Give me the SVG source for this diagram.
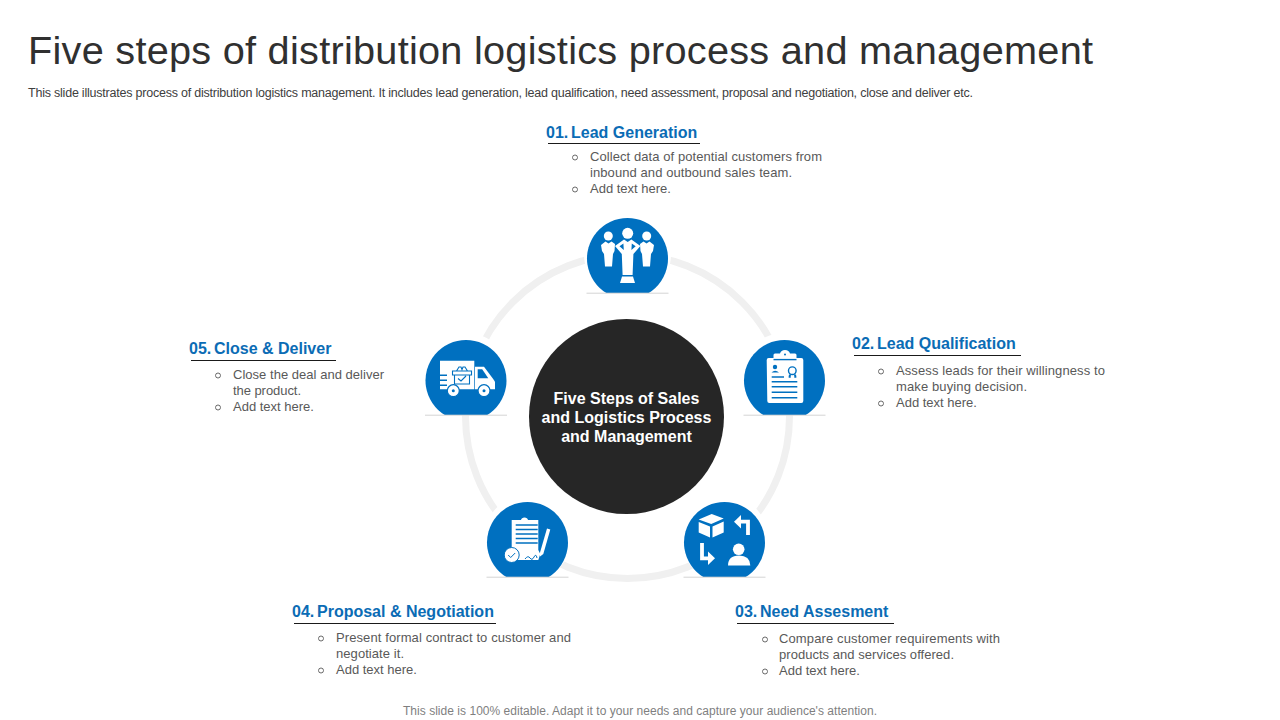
<svg xmlns="http://www.w3.org/2000/svg" width="1280" height="720" viewBox="0 0 1280 720">
<style>
text{font-family:"Liberation Sans",Arial,sans-serif}
.h{font-size:16px;font-weight:bold;fill:#0b6cb5}
.b{font-size:13px;fill:#595959}
.o{fill:none;stroke:#595959;stroke-width:.9}
.u{stroke:#1a1a1a;stroke-width:1}
.disc{fill:#0070c0}
.base{stroke:#d4d4d4;stroke-width:1}
.w{fill:#fff}
.bl{fill:#0070c0}
.bs{stroke:#0070c0;stroke-width:1.4;fill:none}
.ws{stroke:#fff;fill:none;stroke-width:3.8}
</style>
<defs>
<g id="badge">
<path class="w" d="M-20,34.5A43.500,43.500 0 1 1 20,34.5Z"/>
<path class="disc" d="M-21.2,34.5A40.5,40.5 0 1 1 21.2,34.5Z"/>
<line class="base" x1="-41" y1="34.7" x2="41" y2="34.7"/>
</g>
</defs>
<rect width="1280" height="720" fill="#fff"/>
<text x="28" y="64" font-size="39.700" fill="#303030" textLength="1065" lengthAdjust="spacing">Five steps of distribution logistics process and management</text>
<text x="28" y="97" font-size="12.500" fill="#404040" textLength="945" lengthAdjust="spacing">This slide illustrates process of distribution logistics management. It includes lead generation, lead qualification, need assessment, proposal and negotiation, close and deliver etc.</text>

<g id="connectors">
<circle cx="627.5" cy="416.5" r="162" fill="none" stroke="#f0f0f0" stroke-width="7"/>
</g>

<g id="center">
<circle cx="626.5" cy="416.5" r="97.5" fill="#262626"/>
<text x="626.5" y="403.500" font-size="16" font-weight="bold" fill="#fff" text-anchor="middle">Five Steps of Sales</text>
<text x="626.5" y="422.500" font-size="16" font-weight="bold" fill="#fff" text-anchor="middle">and Logistics Process</text>
<text x="626.5" y="441.500" font-size="16" font-weight="bold" fill="#fff" text-anchor="middle">and Management</text>
</g>

<g id="node-01">
<use href="#badge" x="627.5" y="258.5"/>
<g class="w">
<circle cx="608.300" cy="236" r="4.500"/>
<circle cx="646.700" cy="236" r="4.500"/>
<circle cx="627.700" cy="233.300" r="5.500"/>
<path d="M601,245l4.500,-3.500l3,2l3,-2l3.500,2.500l-.5,7l-1.500,3l-1,12.500h-7l-1,-12.500l-2,-3z"/>
<path d="M654,245l-4.500,-3.500l-3,2l-3,-2l-3.500,2.500l.5,7l1.500,3l1,12.500h7l1,-12.500l2,-3z"/>
<path fill-rule="evenodd" d="M615,246l9,-6.500l3.700,2.500l3.700,-2.500l9,6.500l-7,8l-.8,21h-10l-.8,-21zM619.500,246.300l4.300,3.700l-.4,-6.500zM635.700,246.300l-4.300,3.700l.4,-6.500z"/>
<path d="M622,276.500h11l2,6.500h-15z"/>
</g>
</g>
<g id="label-01">
<text class="h" x="546" y="138">01.</text><text class="h" x="571" y="138">Lead Generation</text>
<line class="u" x1="548" y1="143.500" x2="700" y2="143.500"/>
<circle class="o" cx="575" cy="157.500" r="2.500"/>
<text class="b" x="590" y="161" textLength="232">Collect data of potential customers from</text>
<text class="b" x="590" y="177" textLength="202">inbound and outbound sales team.</text>
<circle class="o" cx="575" cy="189.500" r="2.500"/>
<text class="b" x="590" y="193">Add text here.</text>
</g>

<g id="node-02">
<use href="#badge" x="784.500" y="380.500"/>
<path class="w" d="M766.700,360q0,-2 2,-2h4.800v-3q0,-1.500 1.500,-1.500h5q1,-3.500 5,-3.500t5,3.500h5q1.500,0 1.500,1.500v3h4.800q2,0 2,2v41q0,2 -2,2h-32q-2,0 -2,-2z"/>
<circle class="bl" cx="785" cy="354.500" r="1"/>
<path class="bs" d="M773.500,359.600h23"/>
<circle class="bl" cx="775" cy="367" r="2.200"/>
<path class="bl" d="M771.500,372.500q3.500,-3.500 7.500,0z"/>
<circle class="bs" cx="792.300" cy="370.700" r="3.800"/>
<path class="bl" d="M789,374.500h2l-.5,3.500l-2,-.5zM794,374.500h2l.5,3l-2,.5z"/>
<path class="bs" d="M771.700,377h12.300M771.700,381.700h25.600M771.700,386.700h25.600M771.700,392.300h25.600M771.700,397.700h25.600"/>
</g>
<g id="label-02">
<text class="h" x="852" y="349">02.</text><text class="h" x="877" y="349">Lead Qualification</text>
<line class="u" x1="854" y1="355.500" x2="1021" y2="355.500"/>
<circle class="o" cx="881" cy="371.500" r="2.500"/>
<text class="b" x="896" y="375" textLength="209">Assess leads for their willingness to</text>
<text class="b" x="896" y="391" textLength="131">make buying decision.</text>
<circle class="o" cx="881" cy="403.500" r="2.500"/>
<text class="b" x="896" y="407">Add text here.</text>
</g>

<g id="node-03">
<use href="#badge" x="724.500" y="542.500"/>
<path class="w" d="M698.700,519.500l13,-5.500l12,4.500l-12.500,5.500zM698.700,522l11.300,4.500v11l-11.300,-5zM712.500,526.500l11.200,-5v11l-11.200,5z"/>
<path class="ws" d="M748,535v-13.300h-9"/>
<path class="w" d="M741,515v13.400l-7,-6.700z"/>
<path class="ws" d="M702,543v15.300h8"/>
<path class="w" d="M708,551.500v13.600l7,-6.800z"/>
<circle class="w" cx="738.700" cy="549.300" r="5.800"/>
<path class="w" d="M728,565.500q0,-10 11,-10t11.300,10z"/>
</g>
<g id="label-03">
<text class="h" x="735" y="617">03.</text><text class="h" x="760" y="617">Need Assesment</text>
<line class="u" x1="737" y1="623.500" x2="894" y2="623.500"/>
<circle class="o" cx="765" cy="639.500" r="2.500"/>
<text class="b" x="779" y="643" textLength="221">Compare customer requirements with</text>
<text class="b" x="779" y="659" textLength="175">products and services offered.</text>
<circle class="o" cx="765" cy="671.500" r="2.500"/>
<text class="b" x="779" y="675">Add text here.</text>
</g>

<g id="node-04">
<use href="#badge" x="527.500" y="542.500"/>
<path class="w" d="M511.700,520h9.300q.5,-2.500 3.500,-2.500t3.500,2.500h10.300v30l2,4l-2,6h-26.600z"/>
<path class="bs" d="M515.700,525h22M515.700,529.500h22M515.700,534h22M515.700,538.500h22M515.700,543h22"/>
<path class="w" d="M540,552.500l7,-24l3.300,1l-7,24.500l-3.300,2.500z"/>
<path d="M525,559q3,-4 5,-1t4,-1t3,1" fill="none" stroke="#0070c0" stroke-width="1"/>
<circle class="w" cx="511.700" cy="555" r="7.500" stroke="#0070c0" stroke-width="1"/>
<path d="M508.200,555l2.500,2.500l4.500,-4.500" fill="none" stroke="#0070c0" stroke-width="1"/>
</g>
<g id="label-04">
<text class="h" x="292" y="617">04.</text><text class="h" x="317" y="617">Proposal &amp; Negotiation</text>
<line class="u" x1="294" y1="623.500" x2="496" y2="623.500"/>
<circle class="o" cx="321" cy="638.500" r="2.500"/>
<text class="b" x="336" y="642" textLength="235">Present formal contract to customer and</text>
<text class="b" x="336" y="658" textLength="68">negotiate it.</text>
<circle class="o" cx="321" cy="670.500" r="2.500"/>
<text class="b" x="336" y="674">Add text here.</text>
</g>

<g id="node-05">
<use href="#badge" x="466" y="380.500"/>
<path class="w" d="M440,360.700h34.300v28.600h-34.300z"/>
<path class="disc" d="M437,374.500h10v1.500h-10zM437,379.500h10v1.500h-10zM437,384.500h10v1.500h-10z"/>
<path class="w" d="M475,366.700h9l9,12l2,3v7.600h-20z"/>
<path class="disc" d="M477.700,369.300h4.500l6.100,9h-10.600z"/>
<circle class="w" cx="453.300" cy="390.700" r="6" stroke="#0070c0" stroke-width="1.200"/>
<circle class="w" cx="484" cy="390.700" r="6" stroke="#0070c0" stroke-width="1.200"/>
<circle class="bl" cx="453.300" cy="390.700" r="1.500"/>
<circle class="bl" cx="484" cy="390.700" r="1.500"/>
<path d="M452.500,371h19v4h-2v9h-15v-9h-2zM455,375h14M456.500,371l2.500,-4h2l1,2.500l1,-2.500h2l2.500,4M458,378.500l3,2.500l5,-5" fill="none" stroke="#0070c0" stroke-width="1.100"/>
</g>
<g id="label-05">
<text class="h" x="189" y="354">05.</text><text class="h" x="214" y="354">Close &amp; Deliver</text>
<line class="u" x1="191" y1="360.500" x2="336" y2="360.500"/>
<circle class="o" cx="218" cy="375.500" r="2.500"/>
<text class="b" x="233" y="379" textLength="151">Close the deal and deliver</text>
<text class="b" x="233" y="395" textLength="68">the product.</text>
<circle class="o" cx="218" cy="407.500" r="2.500"/>
<text class="b" x="233" y="411">Add text here.</text>
</g>

<text x="640" y="715" font-size="12" fill="#7f7f7f" text-anchor="middle" textLength="474">This slide is 100% editable. Adapt it to your needs and capture your audience's attention.</text>
</svg>
